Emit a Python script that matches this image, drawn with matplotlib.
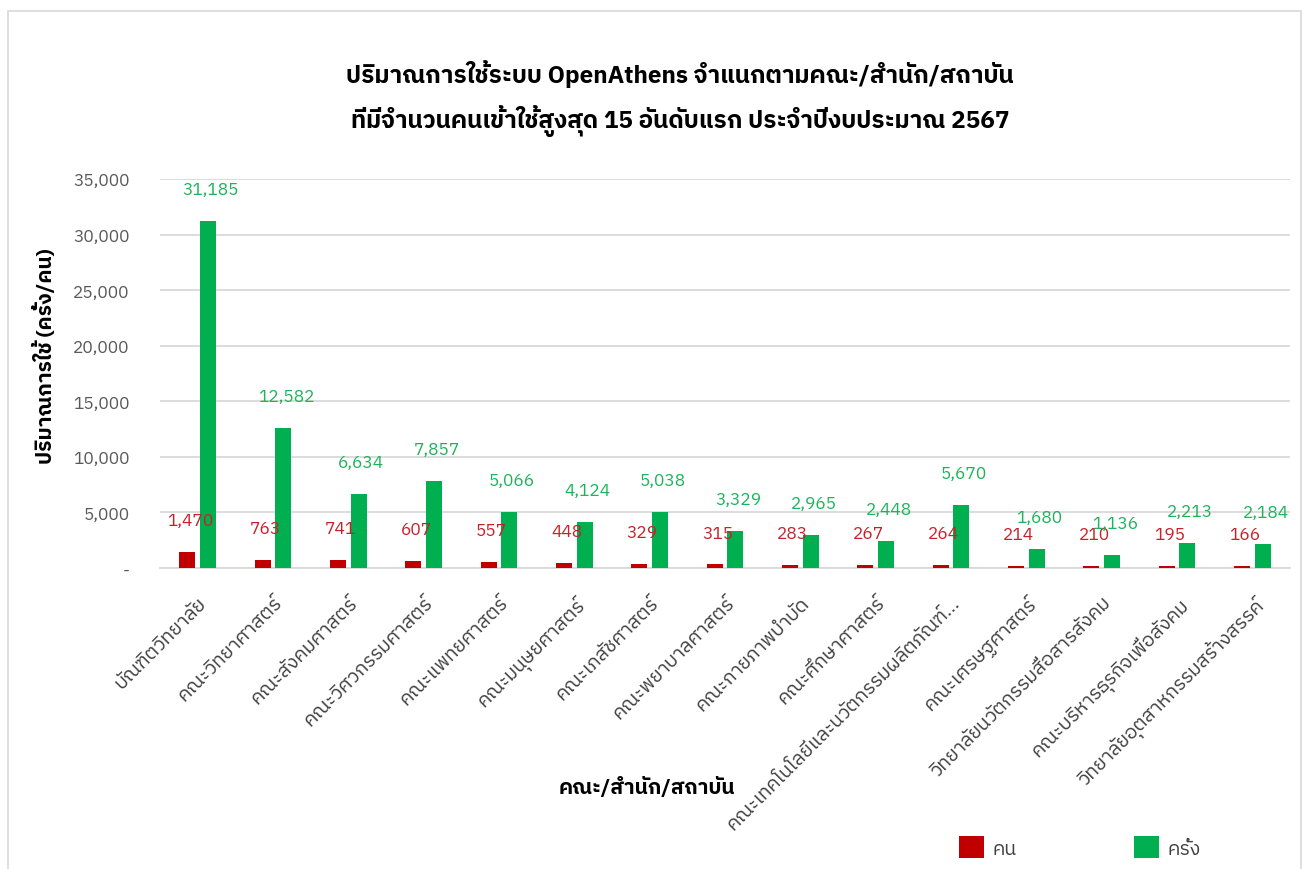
import matplotlib
matplotlib.use("Agg")
import matplotlib.pyplot as plt
from matplotlib.patches import Rectangle
from matplotlib.ticker import FuncFormatter
import numpy as np

# === Data ===
faculties = [
    "บัณฑิตวิทยาลัย",
    "คณะวิทยาศาสตร์",
    "คณะสังคมศาสตร์",
    "คณะวิศวกรรมศาสตร์",
    "คณะแพทยศาสตร์",
    "คณะมนุษยศาสตร์",
    "คณะเภสัชศาสตร์",
    "คณะพยาบาลศาสตร์",
    "คณะกายภาพบำบัด",
    "คณะศึกษาศาสตร์",
    "คณะเทคโนโลยีและนวัตกรรมผลิตภัณฑ์...",
    "คณะเศรษฐศาสตร์",
    "วิทยาลัยนวัตกรรมสื่อสารสังคม",
    "คณะบริหารธุรกิจเพื่อสังคม",
    "วิทยาลัยอุตสาหกรรมสร้างสรรค์",
]
people = [1470, 763, 741, 607, 557, 448, 329, 315, 283, 267, 264, 214, 210, 195, 166]
visits = [31185, 12582, 6634, 7857, 5066, 4124, 5038, 3329, 2965, 2448, 5670, 1680, 1136, 2213, 2184]

title = ("ปริมาณการใช้ระบบ OpenAthens จำแนกตามคณะ/สำนัก/สถาบัน\n"
         "ที่มีจำนวนคนเข้าใช้สูงสุด 15 อันดับแรก ประจำปีงบประมาณ 2567")

RED = "#C00000"
GREEN = "#00B050"
plt.rcParams["font.family"] = ["IBM Plex Sans Thai", "DejaVu Sans"]

# === Figure ===
fig = plt.figure(figsize=(13.03, 8.7), dpi=100)
fig.patches.append(Rectangle((8 / 1303, -0.05), 1293 / 1303, 1.05 - 12 / 870,
                             transform=fig.transFigure, fill=False,
                             edgecolor="#D9D9D9", linewidth=1.2))

ax = fig.add_axes([160 / 1303, 1 - 569 / 870, 1130 / 1303, 389 / 870])

x = np.arange(len(faculties))
w = 0.21
off = 0.137
b1 = ax.bar(x - off, people, width=w, color=RED, label="คน", zorder=3)
b2 = ax.bar(x + off, visits, width=w, color=GREEN, label="ครั้ง", zorder=3)

# data labels
for rect, v in zip(b1, people):
    ax.annotate(f"{v:,}", (rect.get_x() + rect.get_width() / 2, v),
                xytext=(2, 23), textcoords="offset points",
                ha="center", va="center", fontsize=12.5, color="#C8202A")
for rect, v in zip(b2, visits):
    ax.annotate(f"{v:,}", (rect.get_x() + rect.get_width() / 2, v),
                xytext=(2, 23), textcoords="offset points",
                ha="center", va="center", fontsize=12.5, color="#1DB35A")

ax.set_ylim(0, 35000)
ax.set_xlim(-0.5, len(faculties) - 0.5)
ax.set_yticks(np.arange(0, 35001, 5000))
ax.yaxis.set_major_formatter(FuncFormatter(lambda v, p: "-" if v == 0 else f"{int(v):,}"))
ax.grid(axis="y", color="#D9D9D9", linewidth=1.3, zorder=0)
for s in ["top", "right", "left"]:
    ax.spines[s].set_visible(False)
ax.spines["bottom"].set_color("#D9D9D9")
ax.spines["bottom"].set_linewidth(1.3)
ax.tick_params(axis="y", length=0, pad=22, labelsize=12.5, labelcolor="#595959")
ax.tick_params(axis="x", length=0, pad=18)

ax.set_xticks(x)
ax.set_xticklabels(faculties, rotation=45, ha="right", rotation_mode="anchor",
                   fontsize=14, color="#404040")

ax.set_ylabel("ปริมาณการใช้ (ครั้ง/คน)", fontsize=15, fontweight="bold")
ax.yaxis.set_label_coords(-0.092, 0.548)
fig.text(647 / 1303, 1 - 788 / 870, "คณะ/สำนัก/สถาบัน", ha="center", va="center",
         fontsize=15, fontweight="bold")
fig.text(680 / 1303, 1 - 99 / 870, title, ha="center", va="center",
         fontsize=17.5, fontweight="bold", linespacing=1.75)

fig.legend(handles=[b1, b2], loc="center", bbox_to_anchor=(1080 / 1303, 1 - 848 / 870),
           ncol=2, frameon=False, fontsize=14, handlelength=1.3, handleheight=1.3,
           columnspacing=6.0, handletextpad=0.45, labelcolor="#404040")

fig.savefig("out.png", dpi=100)
